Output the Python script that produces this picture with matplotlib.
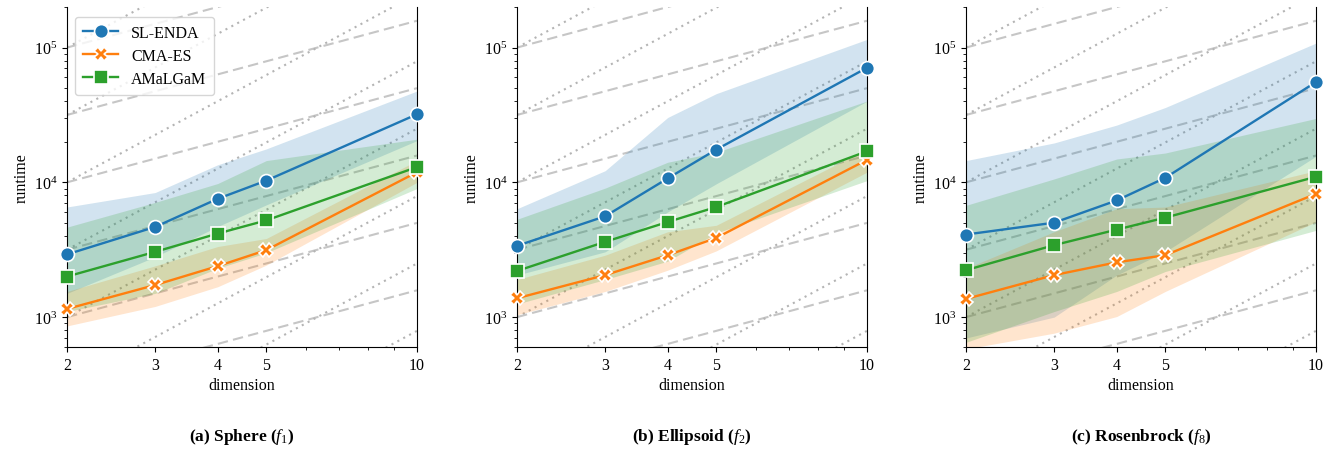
import matplotlib
matplotlib.use("Agg")
import matplotlib.pyplot as plt
import numpy as np
from matplotlib.ticker import FixedLocator, NullFormatter

plt.rcParams['font.family'] = ['Liberation Serif', 'DejaVu Serif']
plt.rcParams['mathtext.fontset'] = 'custom'
plt.rcParams['mathtext.rm'] = 'Liberation Serif'
plt.rcParams['mathtext.it'] = 'Liberation Serif:italic'
plt.rcParams['mathtext.bf'] = 'Liberation Serif:bold'

dims = [2, 3, 4, 5, 10]
algos = ["SL-ENDA", "CMA-ES", "AMaLGaM"]
colors = ["#1f77b4", "#ff7f0e", "#2ca02c"]
markers = ["o", "X", "s"]
captions = [r"(a) Sphere ($f_1$)", r"(b) Ellipsoid ($f_2$)", r"(c) Rosenbrock ($f_8$)"]

# mean runtime per problem, per algorithm
sphere_mean = [[2920, 4670, 7550, 10300, 32000],
               [1150, 1730, 2390, 3140, 11900],
               [2000, 3050, 4170, 5220, 12980]]
sphere_lo = [[1500, 2800, 4700, 6800, 20400],
             [860, 1200, 1680, 2430, 10000],
             [1100, 1500, 2300, 3000, 9000]]
sphere_hi = [[6560, 8400, 13500, 17700, 47600],
             [1550, 2400, 3340, 3830, 14500],
             [4650, 7100, 9800, 14500, 20900]]

ellips_mean = [[3380, 5600, 10700, 17500, 70800],
               [1380, 2050, 2880, 3870, 14700],
               [2200, 3620, 5080, 6560, 17000]]
ellips_lo = [[2050, 3050, 6030, 9750, 40000],
             [1040, 1550, 2230, 3100, 11900],
             [1250, 1900, 2600, 4200, 10300]]
ellips_hi = [[6370, 12200, 30300, 45500, 115000],
             [1900, 2880, 4300, 4800, 17700],
             [5320, 9060, 14100, 16700, 40100]]

rosen_mean = [[4100, 5020, 7340, 10800, 55500],
              [1365, 2050, 2550, 2880, 8220],
              [2230, 3420, 4460, 5470, 11000]]
rosen_lo = [[700, 1000, 2050, 3060, 15600],
            [580, 760, 1010, 1550, 5100],
            [650, 1100, 1550, 2180, 4400]]
rosen_hi = [[14500, 19600, 26600, 35900, 108000],
            [2300, 4300, 6370, 6560, 12200],
            [6750, 10600, 14900, 16500, 29800]]

means = [sphere_mean, ellips_mean, rosen_mean]
lows = [sphere_lo, ellips_lo, rosen_lo]
highs = [sphere_hi, ellips_hi, rosen_hi]

# guide lines: value at dimension 2, linear (dashed) and quadratic (dotted)
guide_lin = [10**2.5, 10**3, 10**3.5, 10**4, 10**4.5, 10**5, 10**5.5]
guide_quad = [10**1.5, 10**2, 10**2.5, 10**3, 10**3.5, 10**4, 10**4.5, 10**5]

fig = plt.figure(figsize=(13.3, 4.52), dpi=100)
lefts = [67, 517, 966]
d = np.array([2.0, 10.0])

for i in range(3):
    ax = fig.add_axes([lefts[i] / 1330, 104 / 452, 350 / 1330, 340 / 452])
    for g in guide_lin:
        ax.plot(d, g * d / 2, ls=(0, (5, 2.5)), color="#c6c6c6", lw=1.5, zorder=1)
    for g in guide_quad:
        ax.plot(d, g * (d / 2) ** 2, ls=(0, (1, 2.2)), color="#b4b4b4", lw=1.5, zorder=1)
    for j in range(3):
        ax.fill_between(dims, lows[i][j], highs[i][j], color=colors[j], alpha=0.2,
                        lw=0, zorder=2)
    for j in range(3):
        ax.plot(dims, means[i][j], color=colors[j], marker=markers[j], lw=1.7,
                ms=10 if j != 2 else 9.5, mec="white", mew=1.2, label=algos[j],
                zorder=3, clip_on=False)
    ax.set_xscale("log")
    ax.set_yscale("log")
    ax.set_xlim(2, 10)
    ax.set_ylim(600, 2e5)
    ax.set_xticks(dims)
    ax.set_xticklabels([str(x) for x in dims])
    ax.xaxis.set_minor_locator(FixedLocator([6, 7, 8, 9]))
    ax.xaxis.set_minor_formatter(NullFormatter())
    ax.spines["top"].set_visible(False)
    ax.tick_params(labelsize=11.5)
    ax.set_xlabel("dimension", fontsize=11.5, labelpad=3)
    ax.set_ylabel("runtime", fontsize=11.5, labelpad=3)
    if i == 0:
        ax.legend(loc="upper left", fontsize=11.5, borderpad=0.5,
                  handlelength=2.2, labelspacing=0.45, bbox_to_anchor=(0.0, 0.995))
    fig.text((lefts[i] + 175) / 1330, 15 / 452, captions[i], ha="center",
             va="center", fontsize=12.5, fontweight="bold")

fig.savefig("out.png", dpi=100)
